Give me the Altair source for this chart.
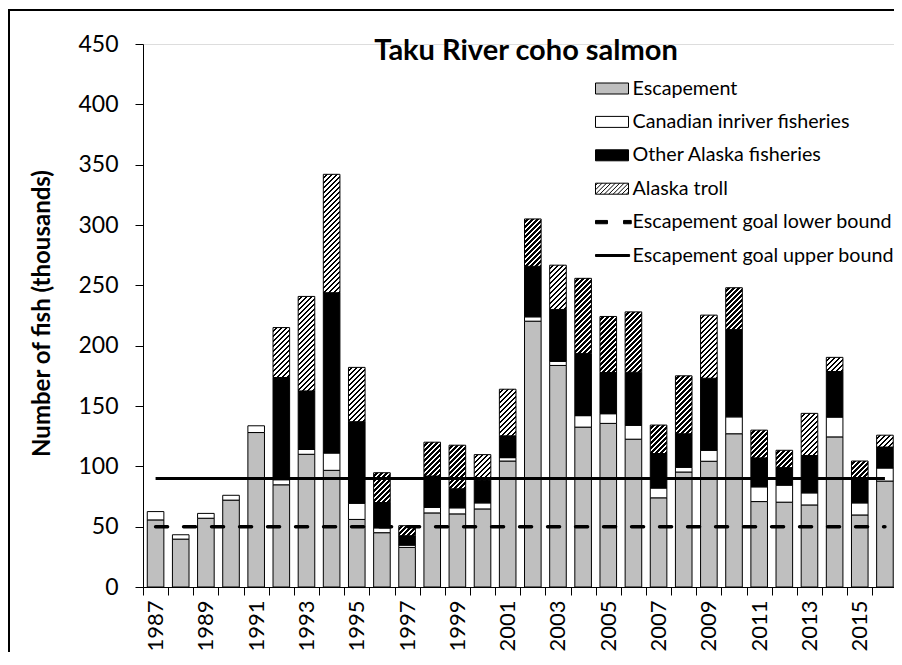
import altair as alt
import pandas as pd

# ---------------- data (thousands of fish) ----------------
years = list(range(1987, 2017))
escapement = [55.6, 39.7, 57.0, 72.0, 128.0, 84.7, 110.0, 96.7, 56.0, 45.0,
              32.8, 61.4, 60.6, 64.7, 104.4, 220.3, 183.6, 132.5, 135.6, 122.5,
              73.9, 95.3, 104.2, 127.0, 70.8, 70.3, 68.0, 124.4, 59.7, 87.8]
canadian = [6.9, 3.6, 4.0, 4.0, 5.6, 4.2, 4.0, 14.3, 13.4, 4.0,
            1.9, 4.6, 5.0, 5.0, 2.8, 3.6, 3.4, 9.5, 8.0, 11.5,
            8.1, 3.9, 9.1, 14.0, 12.2, 14.1, 10.0, 16.4, 10.0, 10.8]
other_alaska = [0, 0, 0, 0, 0, 84.7, 48.5, 132.9, 67.6, 21.0,
                7.8, 26.0, 15.8, 18.6, 18.1, 41.9, 43.0, 51.6, 34.2, 44.0,
                28.6, 27.8, 59.7, 72.3, 24.0, 14.5, 31.0, 37.8, 19.2, 17.4]
alaska_troll = [0, 0, 0, 0, 0, 41.4, 78.3, 98.1, 45.0, 24.7,
                8.3, 28.0, 36.1, 21.4, 38.6, 39.2, 36.7, 62.2, 46.4, 50.0,
                23.6, 48.0, 52.3, 34.7, 23.0, 14.4, 34.9, 11.7, 15.5, 9.8]
goal_lower = 50
goal_upper = 90
series_names = ["Escapement", "Canadian inriver fisheries",
                "Other Alaska fisheries", "Alaska troll"]
line_names = ["Escapement goal lower bound", "Escapement goal upper bound"]
legend_labels = series_names + line_names
title_text = "Taku River coho salmon"
y_title = "Number of fish (thousands)"
y_ticks = [0, 50, 100, 150, 200, 250, 300, 350, 400, 450]

# ---------------- layout ----------------
W, H = 751, 543
PX_YEAR = 25.15
X_MIN = 1986.5
X_MAX = X_MIN + W / PX_YEAR
Y_MAX = 450
HALF = 0.33
FONT = "Lato"

xscale = alt.Scale(domain=[X_MIN, X_MAX], nice=False, zero=False)
yscale = alt.Scale(domain=[0, Y_MAX], nice=False, zero=True)

xaxis = alt.Axis(
    values=[X_MIN + i for i in range(30)],
    labelExpr="(datum.value + 0.5) % 2 == 1 ? toString(datum.value + 0.5) : ''",
    labelAngle=270, labelOffset=PX_YEAR / 2, tickSize=8, labelPadding=5,
    labelFontSize=22, labelFont=FONT, labelColor="black", grid=False, title=None,
    labelOverlap=False, labelFlush=False, labelBound=False,
    domainColor="black", tickColor="black", domainWidth=1, tickWidth=1)
yaxis = alt.Axis(
    values=y_ticks, tickSize=8, labelPadding=17, labelFontSize=23, labelFont=FONT,
    labelColor="black", grid=False, title=y_title, titleFont=FONT, titleFontSize=24,
    titleFontWeight="bold", titleColor="black", titleX=-94, titleY=269,
    titleAngle=270, titleBaseline="alphabetic", titleAlign="center",
    domainColor="black", tickColor="black", domainWidth=1, tickWidth=1)


def xenc():
    return alt.X("xa:Q", scale=xscale, axis=xaxis)


def yenc():
    return alt.Y("y0:Q", scale=yscale, axis=yaxis)


# stacked segments (bottom three series)
colors = ["#BFBFBF", "#FFFFFF", "#000000"]
rows = []
for i, yr in enumerate(years):
    base = 0.0
    for name, vals, col in zip(series_names[:3], [escapement, canadian, other_alaska], colors):
        v = vals[i]
        if v > 0:
            rows.append(dict(year=yr, xa=yr - HALF, xb=yr + HALF, series=name,
                             y0=base, y1=base + v, color=col))
        base += v
seg_df = pd.DataFrame(rows)

bars = alt.Chart(seg_df).mark_bar(stroke="black", strokeWidth=1).encode(
    x=xenc(), x2="xb:Q", y=yenc(), y2="y1:Q",
    fill=alt.Fill("color:N", scale=None))


def hatch_gradient(w, h, period=5.0, frac=0.5):
    total = w + h
    stops = []
    s = 0.0
    while s < total - 1e-9:
        a = min(s + period * (1 - frac), total)
        b = min(s + period, total)
        stops.append({"offset": s / total, "color": "white"})
        stops.append({"offset": a / total, "color": "white"})
        if a < total:
            stops.append({"offset": a / total, "color": "black"})
            stops.append({"offset": b / total, "color": "black"})
        s += period
    k = total / (w * w + h * h)
    return {"gradient": "linear", "x1": 0, "y1": 0, "x2": w * k, "y2": h * k,
            "stops": stops}


troll_layers = []
for i, yr in enumerate(years):
    v = alaska_troll[i]
    if v <= 0:
        continue
    base = escapement[i] + canadian[i] + other_alaska[i]
    d = pd.DataFrame([dict(year=yr, xa=yr - HALF, xb=yr + HALF, series="Alaska troll",
                           y0=base, y1=base + v)])
    w_px = 2 * HALF * PX_YEAR
    h_px = v * H / Y_MAX
    troll_layers.append(
        alt.Chart(d).mark_bar(fill=hatch_gradient(w_px, h_px), stroke="black",
                              strokeWidth=1).encode(
            x=xenc(), x2="xb:Q", y=yenc(), y2="y1:Q"))

# goal lines
lines_df = pd.DataFrame([
    dict(xa=years[0], xb=years[-1], y0=goal_lower, series=line_names[0]),
    dict(xa=years[0], xb=years[-1], y0=goal_upper, series=line_names[1]),
])
lower = alt.Chart(lines_df).transform_filter(
    alt.datum.series == line_names[0]).mark_rule(
    color="black", strokeWidth=3.5, strokeDash=[12, 16], strokeCap="round").encode(
    x=xenc(), x2="xb:Q", y=yenc())
upper = alt.Chart(lines_df).transform_filter(
    alt.datum.series == line_names[1]).mark_rule(
    color="black", strokeWidth=3).encode(x=xenc(), x2="xb:Q", y=yenc())

# legend symbols (paths in [-1,1] symbol space)
rect_path = "M-1.5,-0.5H1.5V0.5H-1.5Z"
hatch = [rect_path]
c = -1.8
while c < 2.01:
    t0 = max(0.0, c - 1.0)
    t1 = min(1.0, c + 2.0)
    if t1 > t0:
        xa_, ya_ = c + 0.5 - t0, -0.5 + t0
        xb_, yb_ = c + 0.5 - t1, -0.5 + t1
        hatch.append(f"M{xa_:.3f},{ya_:.3f}L{xb_:.3f},{yb_:.3f}")
    c += 0.4
hatch_path = " ".join(hatch)
dash_path = "M-1.5,-0.15H-0.41V0.15H-1.5Z M1.05,-0.15H1.75V0.15H1.05Z"
solid_path = "M-1.5,-0.09H1.6V0.09H-1.5Z"
legend_shapes = [rect_path, rect_path, rect_path, hatch_path, dash_path, solid_path]
legend_fills = ["#BFBFBF", "#FFFFFF", "#000000", "#FFFFFF", "#000000", "#000000"]

leg = alt.Legend(title=None, orient="none", legendX=457.5, legendY=33, padding=0,
                 rowPadding=11.4, labelOffset=9, labelFontSize=19.7, labelFont=FONT,
                 labelColor="black", labelLimit=0, symbolSize=484,
                 symbolStrokeColor="black", symbolStrokeWidth=1)
legend_df = pd.DataFrame({"series": legend_labels})
legend_layer = alt.Chart(legend_df).transform_filter("false").mark_point(
    filled=True, size=484, stroke="black", strokeWidth=1, opacity=1).encode(
    fill=alt.Fill("series:N", scale=alt.Scale(domain=legend_labels, range=legend_fills),
                  legend=leg),
    shape=alt.Shape("series:N", scale=alt.Scale(domain=legend_labels, range=legend_shapes),
                    legend=leg))

# chart title as text inside the frame
title_df = pd.DataFrame([{"t": title_text}])
title_layer = alt.Chart(title_df).mark_text(
    font=FONT, fontSize=29, fontWeight="bold", color="black",
    align="center", baseline="alphabetic").encode(
    text="t:N", x=alt.value(383), y=alt.value(16))

# outer frame (decoration), drawn as thin filled rectangles
frame_df = pd.DataFrame([{"k": 0}])
frame_left = alt.Chart(frame_df).mark_rect(color="black", strokeWidth=0).encode(
    x=alt.value(-135), x2=alt.value(-133), y=alt.value(-35), y2=alt.value(H + 90))
frame_top = alt.Chart(frame_df).mark_rect(color="black", strokeWidth=0).encode(
    x=alt.value(-135), x2=alt.value(W), y=alt.value(-35), y2=alt.value(-33))

chart = alt.layer(bars, *troll_layers, lower, upper, legend_layer, title_layer,
                  frame_left, frame_top).properties(
    width=W, height=H,
    autosize=alt.AutoSizeParams(type="none"),
    padding={"left": 135, "top": 36, "right": 0, "bottom": 65},
).configure_view(stroke="transparent").configure(background="white")

chart.save("out.html", embed_options={"renderer": "svg", "actions": False})
